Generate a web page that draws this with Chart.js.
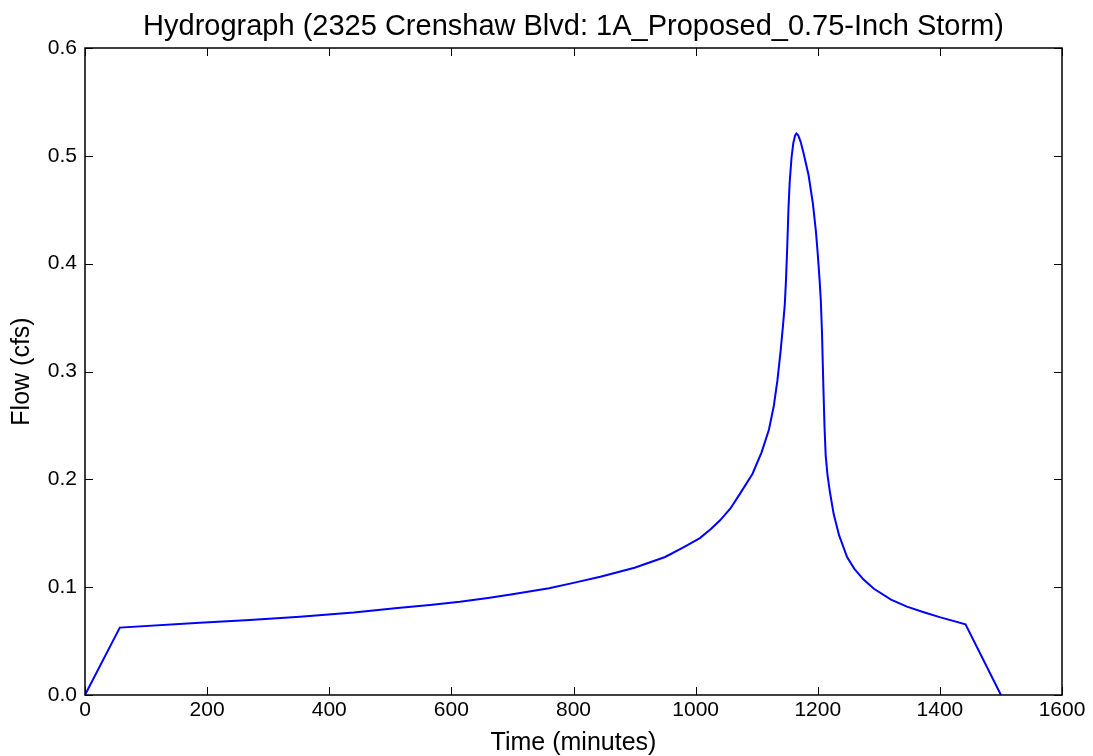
<!DOCTYPE html>
<html>
<head>
<meta charset="utf-8">
<title>Hydrograph</title>
<script src="https://cdn.jsdelivr.net/npm/chart.js@4.4.1/dist/chart.umd.min.js"></script>
<style>
  html, body { margin: 0; padding: 0; background: #fff; }
  #wrap { width: 1093px; height: 756px; position: relative; }
</style>
</head>
<body>
<div id="wrap"><canvas id="hydro"></canvas></div>
<script>
// Hydrograph, 0.75-inch storm: time in minutes vs flow in cfs
const timeMin = [0, 57, 188, 270, 352, 440, 516, 565, 614, 660, 700, 760, 800, 844, 900, 950, 980, 1007, 1025, 1040, 1057, 1073, 1093, 1108, 1120, 1128, 1134, 1139, 1143, 1146, 1148, 1150, 1152, 1154, 1157, 1160, 1163, 1165, 1168, 1172, 1177, 1185, 1192, 1197, 1200, 1203, 1205, 1207, 1209, 1211, 1213, 1216, 1220, 1226, 1235, 1248, 1260, 1275, 1292, 1320, 1346, 1375, 1401, 1442, 1500];
const flowCfs = [0, 0.0625, 0.067, 0.0695, 0.0726, 0.0765, 0.081, 0.0835, 0.0865, 0.09, 0.0935, 0.099, 0.104, 0.1097, 0.118, 0.128, 0.137, 0.1455, 0.154, 0.162, 0.173, 0.187, 0.205, 0.225, 0.246, 0.268, 0.292, 0.318, 0.342, 0.362, 0.385, 0.415, 0.45, 0.475, 0.498, 0.512, 0.519, 0.5206, 0.519, 0.513, 0.502, 0.482, 0.456, 0.43, 0.409, 0.385, 0.366, 0.335, 0.29, 0.25, 0.222, 0.204, 0.188, 0.168, 0.148, 0.128, 0.117, 0.107, 0.0985, 0.0885, 0.0819, 0.0765, 0.072, 0.0655, 0];
const xTicks = [0, 200, 400, 600, 800, 1000, 1200, 1400, 1600];
const yTicks = [0.0, 0.1, 0.2, 0.3, 0.4, 0.5, 0.6];
const chartTitle = 'Hydrograph (2325 Crenshaw Blvd: 1A_Proposed_0.75-Inch Storm)';

const FONT = 'Arial, "Liberation Sans", sans-serif';
const TICK_LEN = 8;

// title centred over the plot box rather than the whole canvas
const plotTitle = {
  id: 'plotTitle',
  afterDraw(chart) {
    const { ctx, chartArea: a } = chart;
    ctx.save();
    ctx.fillStyle = '#000';
    ctx.font = '29px ' + FONT;
    ctx.textAlign = 'center';
    ctx.textBaseline = 'middle';
    ctx.fillText(chartTitle, (a.left + a.right) / 2, 27);
    ctx.restore();
  }
};

// box frame + inward tick marks on all four sides
const frameTicks = {
  id: 'frameTicks',
  afterDraw(chart) {
    const { ctx, chartArea: a, scales } = chart;
    ctx.save();
    ctx.strokeStyle = '#000';
    ctx.lineWidth = 1;
    scales.x.ticks.forEach(t => {
      const px = Math.round(scales.x.getPixelForValue(t.value)) + 0.5;
      ctx.beginPath();
      ctx.moveTo(px, a.bottom); ctx.lineTo(px, a.bottom - TICK_LEN);
      ctx.moveTo(px, a.top); ctx.lineTo(px, a.top + TICK_LEN);
      ctx.stroke();
    });
    scales.y.ticks.forEach(t => {
      const py = Math.round(scales.y.getPixelForValue(t.value)) + 0.5;
      ctx.beginPath();
      ctx.moveTo(a.left, py); ctx.lineTo(a.left + TICK_LEN, py);
      ctx.moveTo(a.right, py); ctx.lineTo(a.right - TICK_LEN, py);
      ctx.stroke();
    });
    ctx.lineWidth = 1.5;
    ctx.strokeRect(a.left, a.top, a.right - a.left, a.bottom - a.top);
    ctx.restore();
  }
};

new Chart(document.getElementById('hydro'), {
  type: 'scatter',
  data: {
    datasets: [{
      data: timeMin.map((t, i) => ({ x: t, y: flowCfs[i] })),
      showLine: true,
      borderColor: '#0000ff',
      borderWidth: 2,
      pointRadius: 0,
      tension: 0,
      fill: false
    }]
  },
  options: {
    responsive: true,
    maintainAspectRatio: false,
    animation: false,
    layout: { padding: { top: 48, right: 31, bottom: 0, left: 0 } },
    plugins: {
      legend: { display: false },
      tooltip: { enabled: false },
      title: { display: false }
    },
    scales: {
      x: {
        type: 'linear',
        min: 0, max: 1600,
        afterBuildTicks: s => { s.ticks = xTicks.map(v => ({ value: v })); },
        afterFit: s => { s.height = 61; },
        grid: { display: false, drawTicks: false },
        border: { display: false },
        ticks: {
          color: '#000',
          padding: 3,
          maxRotation: 0,
          font: { family: FONT, size: 21 },
          callback: v => String(v)
        },
        title: {
          display: true,
          text: 'Time (minutes)',
          color: '#000',
          font: { family: FONT, size: 25, lineHeight: 1.05 },
          padding: { top: 0, bottom: 0 }
        }
      },
      y: {
        type: 'linear',
        min: 0, max: 0.6,
        afterBuildTicks: s => { s.ticks = yTicks.map(v => ({ value: v })); },
        afterFit: s => { s.width = 85; },
        grid: { display: false, drawTicks: false },
        border: { display: false },
        ticks: {
          color: '#000',
          padding: 8,
          font: { family: FONT, size: 21 },
          callback: v => v.toFixed(1)
        },
        title: {
          display: true,
          text: 'Flow (cfs)',
          color: '#000',
          font: { family: FONT, size: 25, lineHeight: 1.2 },
          padding: { top: 7, bottom: 0 }
        }
      }
    }
  },
  plugins: [frameTicks, plotTitle]
});
</script>
</body>
</html>
